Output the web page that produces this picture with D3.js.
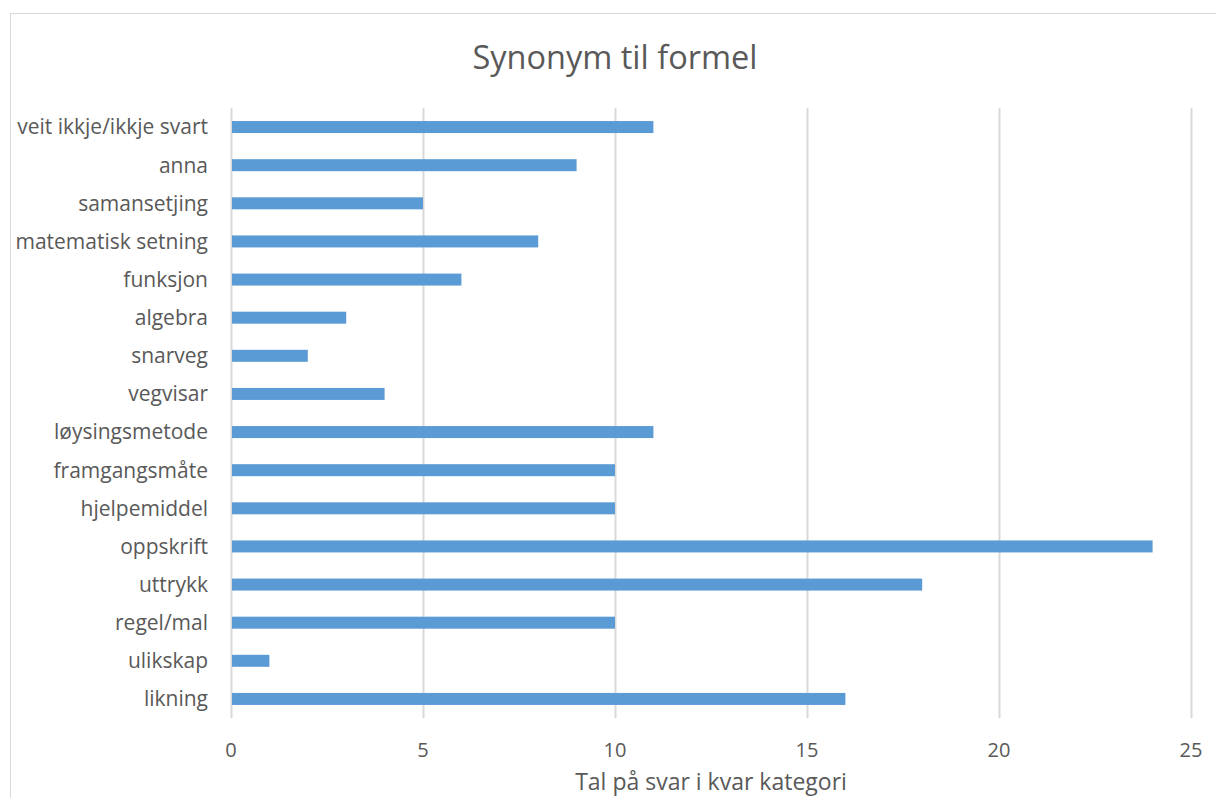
<!DOCTYPE html>
<html>
<head>
<meta charset="utf-8">
<script src="https://cdn.jsdelivr.net/npm/d3@7"></script>
<style>
  body { margin: 0; background: #fff; }
  text { font-family: "Open Sans", "Noto Sans", sans-serif; fill: #595959; }
</style>
</head>
<body>
<svg id="chart" width="1216" height="798"></svg>
<script>
// categories from top to bottom
const categories = [
    "veit ikkje/ikkje svart", "anna", "samansetjing", "matematisk setning",
    "funksjon", "algebra", "snarveg", "vegvisar", "løysingsmetode",
    "framgangsmåte", "hjelpemiddel", "oppskrift", "uttrykk", "regel/mal",
    "ulikskap", "likning"
];
const counts = [11, 9, 5, 8, 6, 3, 2, 4, 11, 10, 10, 24, 18, 10, 1, 16];
const xTicks = [0, 5, 10, 15, 20, 25];

const svg = d3.select("#chart");

// chart border (cut off at right and bottom like the original)
svg.append("rect")
    .attr("x", 10.5).attr("y", 13.5)
    .attr("width", 1230).attr("height", 820)
    .attr("fill", "none")
    .attr("stroke", "#d9d9d9")
    .attr("stroke-width", 1);

const plotLeft = 231, plotRight = 1191, plotTop = 108, plotBottom = 718;

const x = d3.scaleLinear().domain([0, 25]).range([plotLeft, plotRight]);
const y = d3.scaleBand().domain(categories).range([plotTop, plotBottom]);

// gridlines
svg.append("g")
    .selectAll("line")
    .data(xTicks)
    .join("line")
    .attr("x1", d => x(d) + 0.5)
    .attr("x2", d => x(d) + 0.5)
    .attr("y1", plotTop)
    .attr("y2", plotBottom)
    .attr("stroke", "#d9d9d9")
    .attr("stroke-width", 2);

// bars
const barH = 12;
svg.append("g")
    .selectAll("rect")
    .data(categories)
    .join("rect")
    .attr("x", x(0) + 1)
    .attr("y", d => y(d) + y.bandwidth() / 2 - barH / 2)
    .attr("width", (d, i) => x(counts[i]) - x(0) - 1)
    .attr("height", barH)
    .attr("fill", "#5b9bd5");

// category labels
svg.append("g")
    .selectAll("text")
    .data(categories)
    .join("text")
    .attr("x", 208)
    .attr("y", d => y(d) + y.bandwidth() / 2)
    .attr("dy", "0.35em")
    .attr("text-anchor", "end")
    .attr("font-size", 21)
    .text(d => d);

// x tick labels
svg.append("g")
    .selectAll("text")
    .data(xTicks)
    .join("text")
    .attr("x", d => x(d))
    .attr("y", 750)
    .attr("dy", "0.35em")
    .attr("text-anchor", "middle")
    .attr("font-size", 20)
    .text(d => d);

// title
svg.append("text")
    .attr("x", 615)
    .attr("y", 58)
    .attr("dy", "0.35em")
    .attr("text-anchor", "middle")
    .attr("font-size", 32.5)
    .text("Synonym til formel");

// axis title
svg.append("text")
    .attr("x", 711)
    .attr("y", 782)
    .attr("dy", "0.35em")
    .attr("text-anchor", "middle")
    .attr("font-size", 23)
    .text("Tal på svar i kvar kategori");
</script>
</body>
</html>
